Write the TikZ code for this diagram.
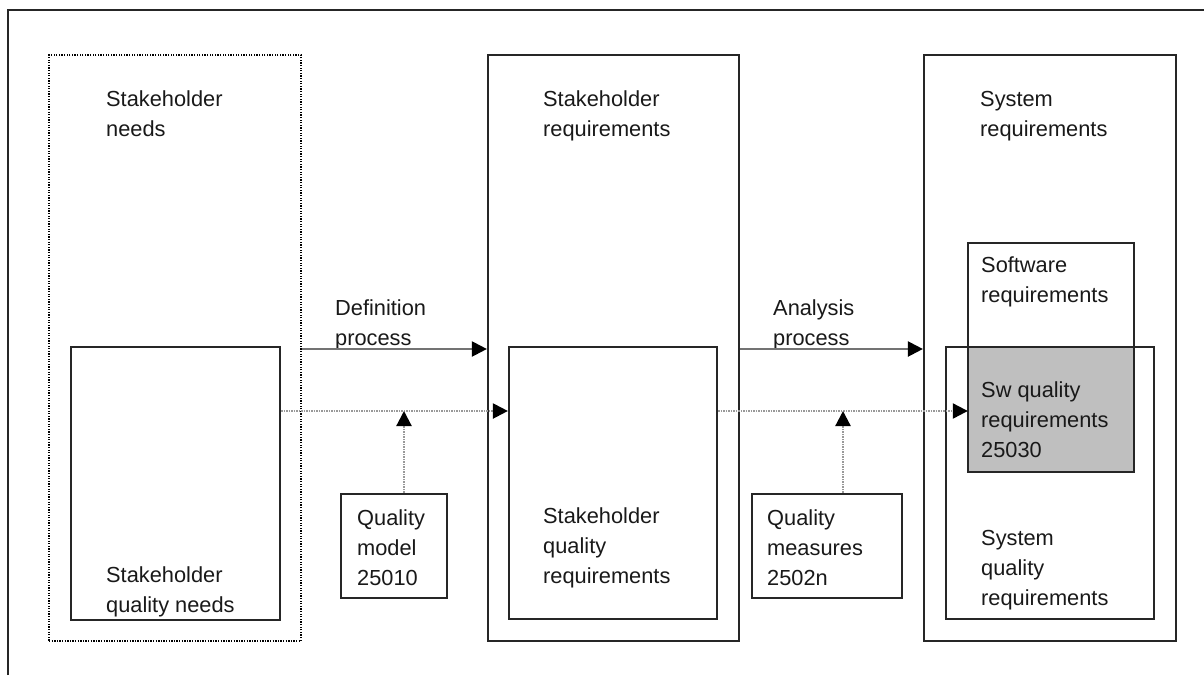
\documentclass[tikz,border=0pt]{standalone}
\usepackage{fontspec}
\setmainfont{Liberation Sans}
\usetikzlibrary{arrows.meta,fit}
\begin{document}
\begin{tikzpicture}[x=1pt,y=-1pt,
  frame/.style={draw=black!85, line width=2.2pt, inner sep=0pt},
  dotbox/.style={draw=black, line width=1.6pt, dash pattern=on 1.3pt off 1.3pt, inner sep=0pt},
  lbl/.style={anchor=base west, align=left, inner sep=0pt,
    font=\fontsize{21.8}{30}\selectfont, text=black!90},
  flow/.style={draw=black!55, line width=2.2pt,
    -{Triangle[length=15pt,width=15pt,color=black]}},
  qflow/.style={flow, draw=black!40, dash pattern=on 1.5pt off 1pt}]
\useasboundingbox (0,0) rectangle (1204,675);

% page frame
\draw[frame] (8,675) -- (8,10) -- (1204,10);

% levels of the two process flows
\coordinate (lvlA) at (0,349);
\coordinate (lvlB) at (0,411);

% overlap of software and system quality requirements
\fill[black!25] (968,347) rectangle (1134,472);

% stakeholder needs (labels are placed by the baseline of their last line)
\node[dotbox, fit={(49,55) (301,641)}] (needs) {};
\node[frame, fit={(71,347) (280,620)}] (qneeds) {};
\node[lbl] (needsT) at (106,136) {Stakeholder\\needs};
\node[lbl] (qneedsT) at (106,612) {Stakeholder\\quality needs};

% stakeholder requirements
\node[frame, fit={(488,55) (739,641)}] (sreq) {};
\node[frame, fit={(509,347) (717,619)}] (sqreq) {};
\node[lbl] (sreqT) at (543,136) {Stakeholder\\requirements};
\node[lbl] (sqreqT) at (543,583) {Stakeholder\\quality\\requirements};

% system requirements
\node[frame, fit={(924,55) (1176,641)}] (sysreq) {};
\node[frame, fit={(968,243) (1134,472)}] (swreq) {};
\node[frame, fit={(946,347) (1154,619)}] (sysqreq) {};
\node[inner sep=0pt, fit={(968,347) (1134,472)}] (swq) {};
\node[lbl] (sysreqT) at (980,136) {System\\requirements};
\node[lbl] (swreqT) at (981,302) {Software\\requirements};
\node[lbl] (swqT) at (981,457) {Sw quality\\requirements\\25030};
\node[lbl] (sysqreqT) at (981,605) {System\\quality\\requirements};

% quality model and measures
\node[frame, fit={(341,494) (447,598)}] (qmodel) {};
\node[lbl] (qmodelT) at (357,585) {Quality\\model\\25010};
\node[frame, fit={(752,494) (902,598)}] (qmeas) {};
\node[lbl] (qmeasT) at (767,585) {Quality\\measures\\2502n};

% process labels
\node[lbl] (defT) at (335,345) {Definition\\process};
\node[lbl] (anaT) at (773,345) {Analysis\\process};

% process flows
\draw[flow] (needs.east |- lvlA) -- (sreq.west |- lvlA);
\draw[flow] (sreq.east |- lvlA) -- (sysreq.west |- lvlA);
\draw[qflow] (qneeds.east |- lvlB) -- (sqreq.west |- lvlB);
\draw[qflow] (sqreq.east |- lvlB) -- (swq.west |- lvlB);
\draw[qflow] ([xshift=10pt]qmodel.north) -- ([xshift=10pt]qmodel.north |- lvlB);
\draw[qflow] ([xshift=16pt]qmeas.north) -- ([xshift=16pt]qmeas.north |- lvlB);
\end{tikzpicture}
\end{document}
